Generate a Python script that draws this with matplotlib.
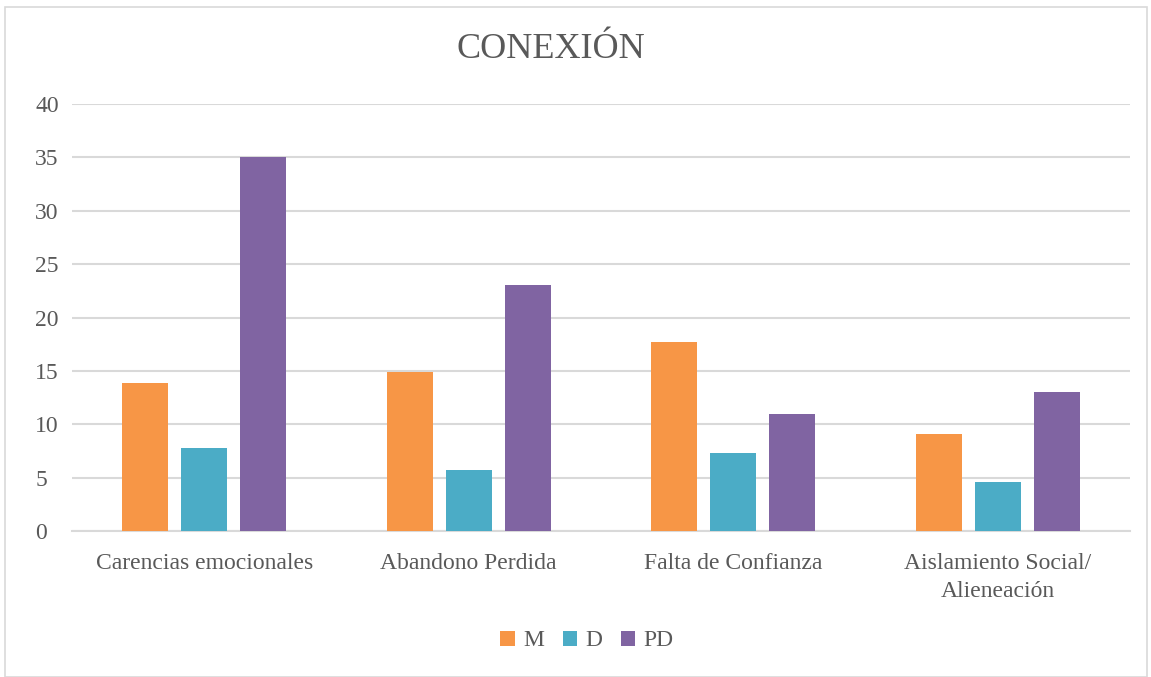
import matplotlib.pyplot as plt
import numpy as np
from matplotlib.patches import Rectangle

categories = ["Carencias emocionales", "Abandono Perdida", "Falta de Confianza",
              "Aislamiento Social/\nAlieneación"]
series_names = ["M", "D", "PD"]
m_vals = [13.9, 14.9, 17.7, 9.1]
d_vals = [7.8, 5.7, 7.3, 4.6]
pd_vals = [35, 23, 11, 13]
colors = ["#F79646", "#4BACC6", "#8064A2"]
yticks = [0, 5, 10, 15, 20, 25, 30, 35, 40]

plt.rcParams["font.family"] = ["Liberation Serif", "DejaVu Serif"]
text_color = "#595959"

W, H = 1151, 677
fig = plt.figure(figsize=(W / 100, H / 100), dpi=100)
ax = fig.add_axes([72 / W, 1 - 531 / H, (1130 - 72) / W, (531 - 104) / H])

# chart frame
fig.patches.append(Rectangle((5 / W, 0), (1147 - 5) / W, (H - 7) / H, transform=fig.transFigure,
                             fill=False, edgecolor="#d9d9d9", linewidth=1.2))

x = np.arange(len(categories))
width = 0.174
offsets = [-0.223, 0, 0.223]
for vals, name, color, off in zip([m_vals, d_vals, pd_vals], series_names, colors, offsets):
    ax.bar(x + off, vals, width, color=color, label=name, zorder=3)

ax.set_xlim(-0.5, len(categories) - 0.5)
ax.set_ylim(0, 40)
ax.set_yticks(yticks)
ax.yaxis.grid(True, color="#d9d9d9", linewidth=1.5, zorder=0)
ax.set_axisbelow(True)
for s in ["top", "right", "left"]:
    ax.spines[s].set_visible(False)
ax.spines["bottom"].set_color("#d9d9d9")
ax.spines["bottom"].set_linewidth(1.5)
ax.tick_params(axis="both", length=0, colors=text_color, labelsize=17)
ax.tick_params(axis="x", pad=16)
ax.set_xticks(x)
ax.set_xticklabels(categories, linespacing=1.4)
for lbl in ax.get_yticklabels():
    lbl.set_horizontalalignment("left")
    lbl.set_x(-(72 - 40) / (1130 - 72))

fig.text(551 / W, 1 - 49 / H, "CONEXIÓN", ha="center", va="center", fontsize=26, color=text_color)

fig.legend(loc="center", bbox_to_anchor=(587 / W, 1 - 641 / H), ncol=3, frameon=False,
           fontsize=17, labelcolor=text_color, handlelength=0.6, handleheight=0.6,
           handletextpad=0.35, columnspacing=0.8)

fig.savefig("out.png", dpi=100)
